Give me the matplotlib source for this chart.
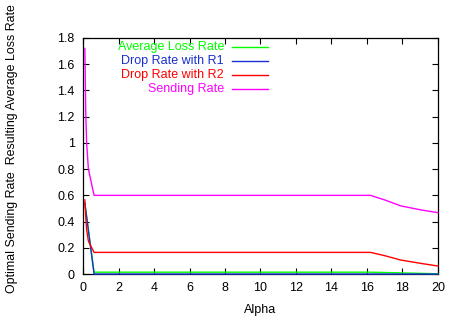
import matplotlib
matplotlib.use("Agg")
import matplotlib.pyplot as plt
from matplotlib.ticker import FuncFormatter

plt.rcParams['font.family'] = ['Liberation Sans', 'DejaVu Sans']

# Data
alpha_send = [0.1, 0.15, 0.2, 0.3, 0.62, 16.2, 17.0, 17.9, 19.0, 20.0]
send_rate = [1.72, 1.23, 1.0, 0.8, 0.6, 0.6, 0.565, 0.52, 0.49, 0.468]

alpha_r2 = [0.1, 0.15, 0.2, 0.3, 0.62, 16.2, 17.0, 17.9, 19.0, 20.0]
drop_r2 = [0.565, 0.44, 0.34, 0.25, 0.165, 0.165, 0.14, 0.107, 0.082, 0.061]

alpha_r1 = [0.1, 0.62, 20.0]
drop_r1 = [0.54, 0.0, 0.0]

alpha_avg = [0.1, 0.62, 16.2, 20.0]
avg_loss = [0.54, 0.014, 0.014, 0.002]

x_ticks = list(range(0, 21, 2))
y_ticks = [0, 0.2, 0.4, 0.6, 0.8, 1.0, 1.2, 1.4, 1.6, 1.8]

labels = ["Average Loss Rate", "Drop Rate with R1", "Drop Rate with R2", "Sending Rate"]
colors = ["#00ff00", "#1a2fd0", "#ff0000", "#ff00ff"]

fig = plt.figure(figsize=(4.59, 3.22), dpi=100)
ax = fig.add_axes([0.181, 0.149, 0.773, 0.733])

series = [(alpha_avg, avg_loss), (alpha_r1, drop_r1), (alpha_r2, drop_r2), (alpha_send, send_rate)]
for (x, y), c in zip(series, colors):
    ax.plot(x, y, color=c, lw=1.0, clip_on=False, zorder=3)

ax.set_xlim(0, 20)
ax.set_ylim(0, 1.8)
ax.set_xticks(x_ticks)
ax.set_yticks(y_ticks)
ax.yaxis.set_major_formatter(FuncFormatter(lambda v, p: "%g" % v))
ax.tick_params(direction='in', length=4, width=0.8, top=True, right=True,
               labelsize=9, pad=6)
for s in ax.spines.values():
    s.set_linewidth(0.9)
    s.set_zorder(2)

ax.set_xlabel("Alpha", fontsize=9, labelpad=7)
ax.set_ylabel("Optimal Sending Rate  Resulting Average Loss Rate", fontsize=8.9)
ax.yaxis.set_label_coords(-0.183, 0.53)

# gnuplot-style key: right-aligned text, sample line to the right
ys = [0.962, 0.903, 0.843, 0.784]
for lab, c, yy in zip(labels, colors, ys):
    ax.text(0.397, yy, lab, color=c, ha='right', va='center', fontsize=9,
            transform=ax.transAxes)
    ax.plot([0.42, 0.52], [yy, yy], color=c, lw=1.0, transform=ax.transAxes)

fig.savefig("out.png", dpi=100)
